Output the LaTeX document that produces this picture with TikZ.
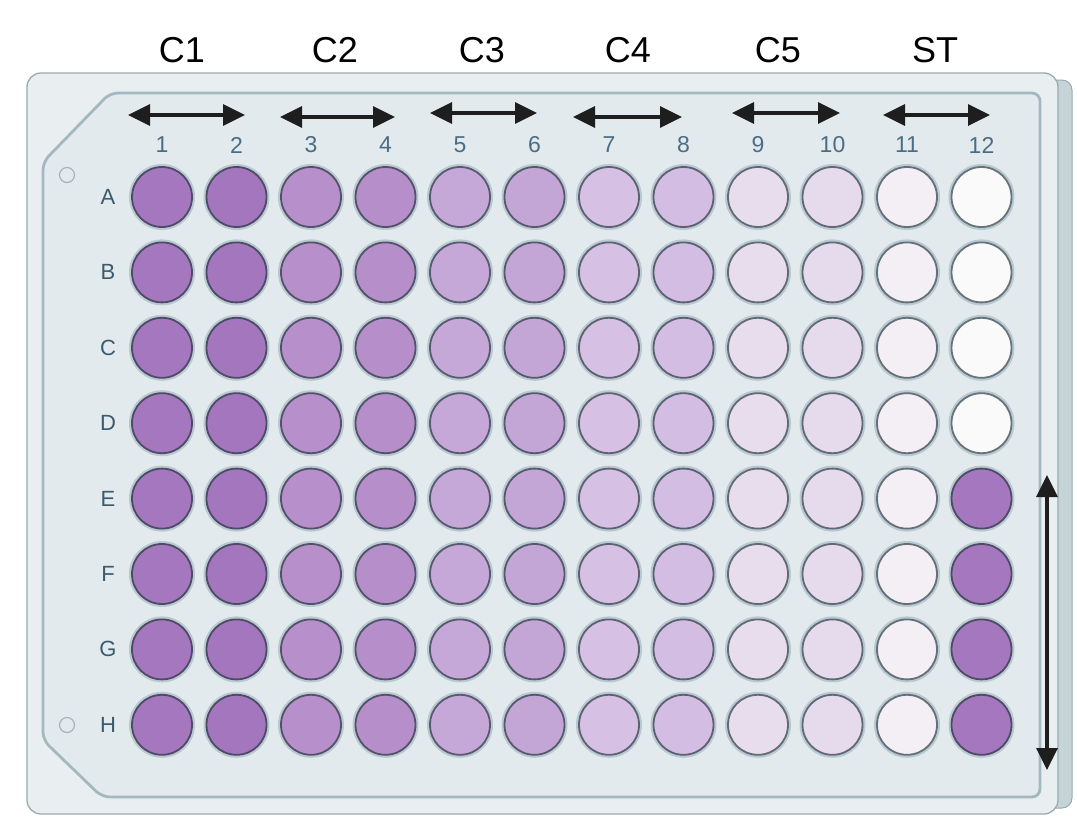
\documentclass[tikz,border=0pt]{standalone}
\usepackage{fontspec}
\setmainfont{Liberation Sans}
\usetikzlibrary{arrows.meta}
\definecolor{plate}{HTML}{E9EEF0}
\definecolor{plateedge}{HTML}{98AAB2}
\definecolor{innerfill}{HTML}{E3EAED}
\definecolor{inneredge}{HTML}{A4B8C0}
\definecolor{sidefill}{HTML}{C6D4D9}
\definecolor{halo}{HTML}{B9C9D1}
\definecolor{dk}{HTML}{2A3842}
\definecolor{lblcol}{HTML}{3A5A6E}
\definecolor{numcol}{HTML}{4A6D85}
\definecolor{arrowcol}{HTML}{1E1E1E}
\definecolor{wc1}{HTML}{A577BF}
\definecolor{wc2}{HTML}{A376BE}
\definecolor{wc3}{HTML}{B78FCB}
\definecolor{wc4}{HTML}{B58ECA}
\definecolor{wc5}{HTML}{C6A8D8}
\definecolor{wc6}{HTML}{C4A6D6}
\definecolor{wc7}{HTML}{D6C0E3}
\definecolor{wc8}{HTML}{D4BDE2}
\definecolor{wc9}{HTML}{E8DDED}
\definecolor{wc10}{HTML}{E6DBEC}
\definecolor{wc11}{HTML}{F3EFF5}
\definecolor{wc12}{HTML}{FAFAFA}
\tikzset{
  well/.style={circle, minimum size=60pt, inner sep=0pt, line width=1.8pt,
    preaction={draw=halo, line width=6pt}},
  collabel/.style={font=\fontsize{36}{40}\selectfont, text=black},
  numlabel/.style={font=\fontsize{23}{26}\selectfont, text=numcol},
  rowlabel/.style={font=\fontsize{22}{26}\selectfont, text=lblcol},
  dblarrow/.style={draw=arrowcol, line width=3.5pt,
    {Triangle[length=22pt,width=21pt]}-{Triangle[length=22pt,width=21pt]}},
  hole/.style={circle, minimum size=15pt, inner sep=0pt, draw=halo!70!gray, fill=innerfill, line width=1.2pt}
}
\begin{document}
\begin{tikzpicture}[x=1pt,y=-1pt]
\useasboundingbox (0,0) rectangle (1077,817);
\fill[white] (0,0) rectangle (1077,817);
% side strip
\draw[fill=sidefill, draw=plateedge, line width=1pt, rounded corners=10pt] (1040,80) rectangle (1072,808);
% outer plate
\draw[fill=plate, draw=plateedge, line width=1.3pt, rounded corners=14pt] (27,73) rectangle (1058,814);
% inner plate
\draw[fill=innerfill, draw=inneredge, line width=2.8pt, rounded corners=8pt]
  (110,93) -- (1040,93) -- (1040,797) -- (102,797) -- (43,740) -- (43,162) -- cycle;
% holes
\node[hole] (h1) at (67,175) {};
\node[hole] (h2) at (67,725) {};
% wells
\foreach \r [count=\i] in {A,B,C,D,E,F,G,H} {
  \node[rowlabel] (r\r) at (108,{197+(\i-1)*75.4}) {\r};
  \foreach \c in {1,...,12} {
    \ifnum\c=12 \ifnum\i>4 \def\wcol{wc1}\else\def\wcol{wc12}\fi\else\edef\wcol{wc\c}\fi
    \node[well, fill=\wcol, draw=\wcol!30!dk] (w\r\c) at ({162+(\c-1)*74.5},{197+(\i-1)*75.4}) {};
  }
}
% column numbers
\foreach \c in {1,...,12} {
  \node[numlabel] (n\c) at ({162+(\c-1)*74.5},145) {\c};
}
% group labels
\node[collabel] (g1) at (182,50) {C1};
\node[collabel] (g2) at (335,50) {C2};
\node[collabel] (g3) at (482,50) {C3};
\node[collabel] (g4) at (628,50) {C4};
\node[collabel] (g5) at (778,50) {C5};
\node[collabel] (g6) at (935,50) {ST};
% arrows
\coordinate (a1l) at (128,115); \coordinate (a1r) at (245,115);
\coordinate (a2l) at (280,117); \coordinate (a2r) at (395,117);
\coordinate (a3l) at (430,113); \coordinate (a3r) at (537,113);
\coordinate (a4l) at (573,117); \coordinate (a4r) at (682,117);
\coordinate (a5l) at (732,113); \coordinate (a5r) at (840,113);
\coordinate (a6l) at (883,115); \coordinate (a6r) at (990,115);
\coordinate (vt) at (1047,475); \coordinate (vb) at (1047,770);
\foreach \k in {1,...,6} { \draw[dblarrow] (a\k l) -- (a\k r); }
\draw[dblarrow] (vt) -- (vb);
\end{tikzpicture}
\end{document}
